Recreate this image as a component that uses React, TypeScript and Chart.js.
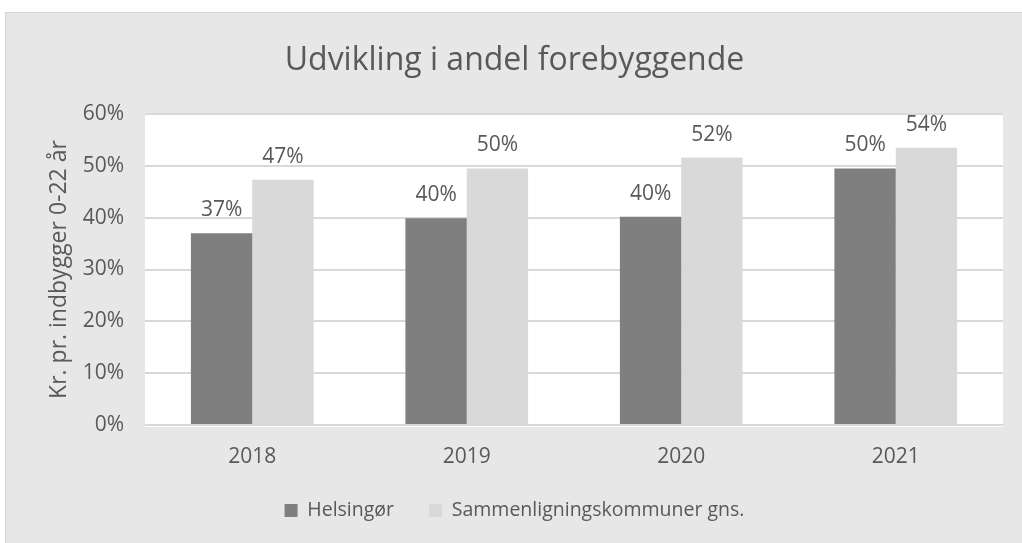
import { useEffect, useRef } from 'react';
import { Chart, registerables } from 'chart.js';

Chart.register(...registerables);

const categories = ['2018', '2019', '2020', '2021'];
const helsingor = [37.0, 39.9, 40.2, 49.5];
const sammenligning = [47.3, 49.5, 51.6, 53.5];
const yTickValues = [0, 10, 20, 30, 40, 50, 60];
const seriesNames = ['Helsingør', 'Sammenligningskommuner gns.'];
const chartTitle = 'Udvikling i andel forebyggende';
const yAxisTitle = 'Kr. pr. indbygger 0-22 år';

const FONT = '"Open Sans", "Noto Sans", sans-serif';
const TEXT = '#595959';

const plotBackground = {
  id: 'plotBackground',
  beforeDraw(chart: any) {
    const { ctx, chartArea } = chart;
    ctx.save();
    ctx.fillStyle = '#ffffff';
    ctx.fillRect(chartArea.left, chartArea.top, chartArea.right - chartArea.left, chartArea.bottom - chartArea.top + 2);
    ctx.restore();
  },
};

const dataLabels = {
  id: 'dataLabels',
  afterDatasetsDraw(chart: any) {
    const { ctx } = chart;
    ctx.save();
    ctx.font = `21px ${FONT}`;
    ctx.fillStyle = TEXT;
    ctx.textAlign = 'center';
    ctx.textBaseline = 'alphabetic';
    chart.data.datasets.forEach((ds: any, di: number) => {
      const meta = chart.getDatasetMeta(di);
      meta.data.forEach((el: any, i: number) => {
        const v = ds.data[i] as number;
        ctx.fillText(`${Math.round(v)}%`, el.x, el.y - 17);
      });
    });
    ctx.restore();
  },
};

export default function App() {
  const ref = useRef<HTMLCanvasElement | null>(null);

  useEffect(() => {
    if (!ref.current) return;
    const chart = new Chart(ref.current, {
      type: 'bar',
      data: {
        labels: categories,
        datasets: [
          {
            label: seriesNames[0],
            data: helsingor,
            backgroundColor: '#7f7f7f',
            borderWidth: 0,
            barPercentage: 1,
            categoryPercentage: 0.572,
          },
          {
            label: seriesNames[1],
            data: sammenligning,
            backgroundColor: '#d9d9d9',
            borderWidth: 0,
            barPercentage: 1,
            categoryPercentage: 0.572,
          },
        ],
      },
      options: {
        responsive: false,
        animation: false,
        layout: { padding: { left: 20, right: 19, top: 0, bottom: 12.75 } },
        plugins: {
          title: {
            display: true,
            text: chartTitle,
            color: TEXT,
            font: { family: FONT, size: 32, weight: 'normal' },
            padding: { top: 28.8, bottom: 33.8 },
          },
          legend: {
            position: 'bottom',
            labels: {
              boxWidth: 13,
              boxHeight: 13,
              padding: 35,
              color: TEXT,
              font: { family: FONT, size: 19.5 },
            },
          },
          tooltip: { enabled: false },
        },
        scales: {
          x: {
            grid: { display: false, drawTicks: false },
            border: { display: false },
            ticks: { color: TEXT, font: { family: FONT, size: 21 }, padding: 19.5 },
            afterFit: (s: any) => {
              s.height = 40.75;
            },
          },
          y: {
            min: 0,
            max: 60,
            afterBuildTicks: (s: any) => {
              s.ticks = yTickValues.map((v) => ({ value: v }));
            },
            ticks: {
              color: TEXT,
              font: { family: FONT, size: 21 },
              padding: 21,
              callback: (v: any) => `${v}%`,
            },
            grid: { color: '#d9d9d9', lineWidth: 2, drawTicks: false },
            border: { display: false },
            title: {
              display: true,
              text: yAxisTitle,
              color: TEXT,
              font: { family: FONT, size: 23 },
              padding: { top: 19.2, bottom: 0 },
            },
            afterFit: (s: any) => {
              s.width = 119;
            },
          },
        },
      },
      plugins: [plotBackground, dataLabels],
    });
    return () => chart.destroy();
  }, []);

  return (
    <div style={{ position: 'fixed', left: 0, top: 0, width: 1022, height: 543, overflow: 'hidden', background: '#ffffff' }}>
      <div
        style={{
          position: 'absolute',
          left: 5,
          top: 12,
          width: 1040,
          height: 560,
          background: '#e7e7e7',
          borderLeft: '1px solid #d2d2d2',
          borderTop: '1px solid #d2d2d2',
        }}
      >
        <canvas ref={ref} width={1016} height={530} style={{ display: 'block', width: 1016, height: 530 }} />
      </div>
    </div>
  );
}
